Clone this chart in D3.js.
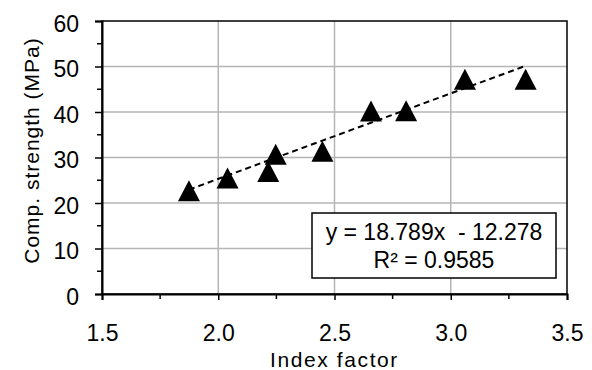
<!DOCTYPE html>
<html>
<head>
<meta charset="utf-8">
<script src="https://cdn.jsdelivr.net/npm/d3@7"></script>
<style>
  body { margin: 0; background: #fff; }
  svg text { font-family: "Liberation Sans", Arial, sans-serif; fill: #000; }
</style>
</head>
<body>
<div id="chart"></div>
<script>
// Values
const indexFactor = [1.874, 2.04, 2.215, 2.247, 2.448, 2.657, 2.808, 3.061, 3.322];
const strength = [22.7, 25.5, 26.9, 30.7, 31.4, 40.2, 40.3, 47.2, 47.2];

// Linear trendline as printed on the chart
const slope = 18.789;
const intercept = -12.278;
const rSquared = 0.9585;

const xTicks = [1.5, 2.0, 2.5, 3.0, 3.5];
const xMinorTicks = [1.75, 2.25, 2.75, 3.25];
const yTicks = [0, 10, 20, 30, 40, 50, 60];
const yMinorTicks = [5, 15, 25, 35, 45, 55];

const points = indexFactor.map((x, i) => ({ x: x, y: strength[i] }));

// Dimensions
const W = 592, H = 370;
const margin = { top: 21, right: 25, bottom: 76, left: 102 };
const width = W - margin.left - margin.right;
const height = H - margin.top - margin.bottom;

const svg = d3.select("#chart")
  .append("svg")
  .attr("width", W)
  .attr("height", H);

const g = svg.append("g")
  .attr("transform", `translate(${margin.left}, ${margin.top})`);

// Scales
const xScale = d3.scaleLinear().domain([1.5, 3.5]).range([0, width]);
const yScale = d3.scaleLinear().domain([0, 60]).range([height, 0]);

// Gridlines
g.append("g")
  .selectAll("line")
  .data(xTicks.slice(1, -1))
  .enter()
  .append("line")
  .attr("x1", d => xScale(d))
  .attr("x2", d => xScale(d))
  .attr("y1", 0)
  .attr("y2", height)
  .attr("stroke", "#b5b5b5")
  .attr("stroke-width", 1.5);

g.append("g")
  .selectAll("line")
  .data(yTicks.slice(1, -1))
  .enter()
  .append("line")
  .attr("x1", 0)
  .attr("x2", width)
  .attr("y1", d => yScale(d))
  .attr("y2", d => yScale(d))
  .attr("stroke", "#b5b5b5")
  .attr("stroke-width", 1.5);

// Plot border
g.append("rect")
  .attr("width", width)
  .attr("height", height)
  .attr("fill", "none")
  .attr("stroke", "#000")
  .attr("stroke-width", 1.5);

// Axes
const xAxis = d3.axisBottom(xScale)
  .tickValues(xTicks)
  .tickSize(6)
  .tickPadding(25)
  .tickFormat(d3.format(".1f"));

const yAxis = d3.axisLeft(yScale)
  .tickValues(yTicks)
  .tickSize(7)
  .tickPadding(16)
  .tickFormat(d3.format("d"));

const gx = g.append("g")
  .attr("transform", `translate(0, ${height})`)
  .call(xAxis);

gx.append("g")
  .selectAll("line")
  .data(xMinorTicks)
  .enter()
  .append("line")
  .attr("x1", d => xScale(d))
  .attr("x2", d => xScale(d))
  .attr("y1", 0)
  .attr("y2", 5)
  .attr("stroke", "#000")
  .attr("stroke-width", 1.5);

const gy = g.append("g").call(yAxis);

gy.append("g")
  .selectAll("line")
  .data(yMinorTicks)
  .enter()
  .append("line")
  .attr("y1", d => yScale(d))
  .attr("y2", d => yScale(d))
  .attr("x1", 0)
  .attr("x2", -5)
  .attr("stroke", "#000")
  .attr("stroke-width", 1.5);

[gx, gy].forEach(ax => {
  ax.select(".domain").attr("stroke", "#000").attr("stroke-width", 2);
  ax.selectAll(".tick line").attr("stroke", "#000").attr("stroke-width", 1.5);
  ax.selectAll(".tick text")
    .attr("font-size", 23)
    .attr("font-family", "'Liberation Sans', Arial, sans-serif")
    .attr("fill", "#000");
});
gy.selectAll(".tick text").attr("dy", "0.44em");

// Trendline
const xFit = d3.extent(indexFactor);
g.append("line")
  .attr("x1", xScale(xFit[0]))
  .attr("y1", yScale(slope * xFit[0] + intercept))
  .attr("x2", xScale(xFit[1]))
  .attr("y2", yScale(slope * xFit[1] + intercept))
  .attr("stroke", "#000")
  .attr("stroke-width", 2)
  .attr("stroke-dasharray", "6,4");

// Triangle markers
const tw = 22, th = 21;
g.selectAll(".pt")
  .data(points)
  .enter()
  .append("path")
  .attr("class", "pt")
  .attr("d", `M0,${-th / 2}L${tw / 2},${th / 2}L${-tw / 2},${th / 2}Z`)
  .attr("transform", d => `translate(${xScale(d.x)}, ${yScale(d.y)})`)
  .attr("fill", "#000");

// Equation box
const box = { x: 312 - margin.left, y: 213 - margin.top, w: 244, h: 65 };
g.append("rect")
  .attr("x", box.x)
  .attr("y", box.y)
  .attr("width", box.w)
  .attr("height", box.h)
  .attr("fill", "#fff")
  .attr("stroke", "#000")
  .attr("stroke-width", 1.5);

g.append("text")
  .attr("x", box.x + box.w / 2)
  .attr("y", box.y + 27)
  .attr("text-anchor", "middle")
  .attr("font-size", 23)
  .attr("xml:space", "preserve")
  .text(`y = ${slope}x  - ${Math.abs(intercept)}`);

g.append("text")
  .attr("x", box.x + box.w / 2)
  .attr("y", box.y + 55)
  .attr("text-anchor", "middle")
  .attr("font-size", 23)
  .text(`R² = ${rSquared}`);

// Axis titles
svg.append("text")
  .attr("x", margin.left + width / 2)
  .attr("y", 367)
  .attr("text-anchor", "middle")
  .attr("font-size", 21)
  .attr("letter-spacing", 1.6)
  .text("Index factor");

svg.append("text")
  .attr("transform", `translate(39, 150.5) rotate(-90)`)
  .attr("text-anchor", "middle")
  .attr("font-size", 21)
  .attr("letter-spacing", 1)
  .text("Comp. strength (MPa)");
</script>
</body>
</html>
